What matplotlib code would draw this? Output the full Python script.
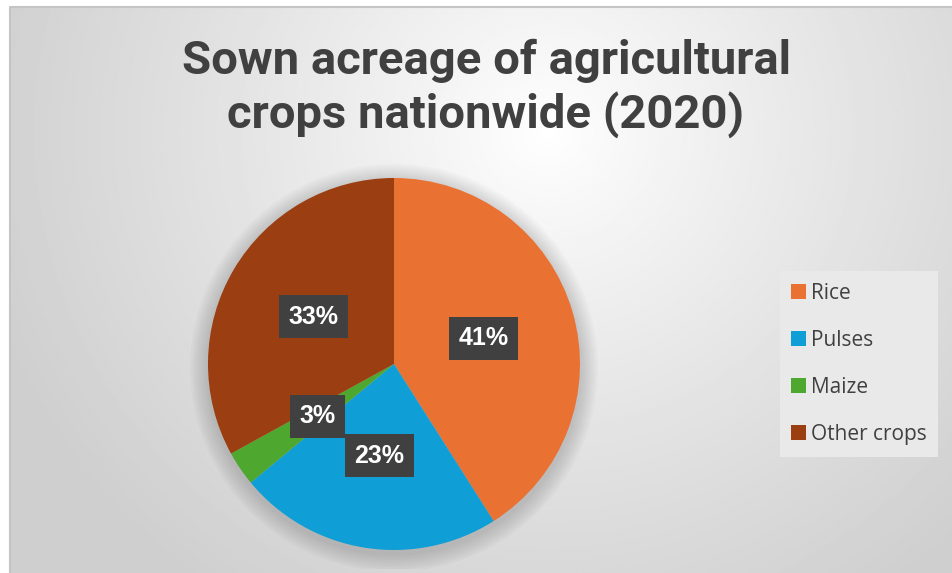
import numpy as np
import matplotlib.pyplot as plt
from matplotlib.patches import Patch, Circle
from matplotlib.lines import Line2D

# Daten
crops = ["Rice", "Pulses", "Maize", "Other crops"]
shares = [41, 23, 3, 33]
colors = ["#E97132", "#0F9ED5", "#4EA72E", "#9B3E11"]
title = "Sown acreage of agricultural\ncrops nationwide (2020)"

W, H = 953, 573
fig = plt.figure(figsize=(W / 100, H / 100), dpi=100)
fig.patch.set_facecolor("white")

# Hintergrund mit radialem Verlauf
bg = fig.add_axes([10 / W, 0, 1 - 10 / W, 1 - 7 / H], zorder=-5)
yy, xx = np.mgrid[0:1:300j, 0:1:500j]
dist = np.sqrt(((xx - 0.57) * 1.6) ** 2 + ((yy - 0.78) * 1.0) ** 2)
shade = 1.0 - 0.19 * np.clip(dist / 1.0, 0, 1) ** 0.9
bg.imshow(shade, cmap="gray", vmin=0, vmax=1, origin="lower",
          extent=[0, 1, 0, 1], aspect="auto", interpolation="bilinear")
bg.set_xlim(0, 1)
bg.set_ylim(0, 1)
bg.axis("off")
# nur oberer und linker Rand
bg.add_line(Line2D([0, 0, 1], [0, 1, 1], color="#c4c4c4", linewidth=1.5,
                   transform=bg.transAxes, clip_on=False))

# Kuchen
cx, cy, r = 394, 364, 186
ax = fig.add_axes([(cx - 1.1 * r) / W, (H - cy - 1.1 * r) / H,
                   2.2 * r / W, 2.2 * r / H])
for k in range(8):
    ax.add_patch(Circle((0.0, -0.02), 1.0 + 0.012 * (k + 1), color="black",
                        alpha=0.018, linewidth=0, zorder=0))
wedges, texts, autotexts = ax.pie(
    shares, colors=colors, startangle=90, counterclock=False,
    autopct="%1.0f%%", pctdistance=0.5, radius=1.0,
    wedgeprops=dict(linewidth=0),
    textprops=dict(color="white", fontsize=18, fontweight="bold",
                   family="Liberation Sans"))
for t in autotexts:
    t.set_bbox(dict(boxstyle="square,pad=0.38", facecolor="#404040",
                    edgecolor="none"))
ax.set_xlim(-1.1, 1.1)
ax.set_ylim(-1.1, 1.1)
ax.set_aspect("equal")
ax.axis("off")

# Titel
fig.text(486 / W, 1 - 88 / H, title, ha="center", va="center",
         fontsize=34, fontweight="bold", color="#404040",
         family="Roboto", linespacing=1.22)

# Legende
handles = [Patch(facecolor=c, edgecolor="none") for c in colors]
leg = fig.legend(handles, crops, loc="center left",
                 bbox_to_anchor=(780 / W, 1 - 364 / H),
                 frameon=True, fancybox=False,
                 handlelength=0.7, handleheight=0.7, handletextpad=0.25,
                 labelspacing=1.25, borderpad=0.55, borderaxespad=0,
                 prop=dict(family="Open Sans", size=15))
leg.get_frame().set_facecolor("#e9e9e9")
leg.get_frame().set_edgecolor("none")
leg.get_frame().set_alpha(1)
for t in leg.get_texts():
    t.set_color("#404040")

fig.savefig("out.png", dpi=100)
